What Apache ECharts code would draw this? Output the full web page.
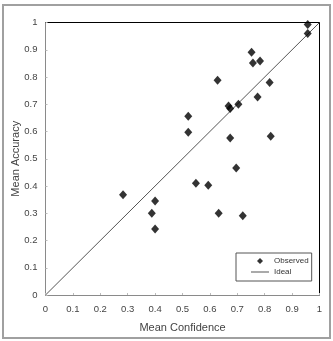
<!DOCTYPE html>
<html>
<head>
<meta charset="utf-8">
<script src="https://cdn.jsdelivr.net/npm/echarts@6/dist/echarts.min.js"></script>
<style>
  html, body { margin: 0; padding: 0; background: #fff; }
  #chart { width: 333px; height: 341px; }
</style>
</head>
<body>
<div id="chart"></div>
<script>
// mean confidence / mean accuracy
var confidence = [0.957, 0.957, 0.752, 0.757, 0.783, 0.628, 0.818, 0.774, 0.668, 0.674, 0.704, 0.521,
                  0.521, 0.674, 0.822, 0.696, 0.549, 0.594, 0.632, 0.720, 0.283, 0.400, 0.388, 0.400];
var accuracy   = [0.993, 0.960, 0.891, 0.851, 0.859, 0.788, 0.780, 0.727, 0.694, 0.684, 0.700, 0.656,
                  0.597, 0.576, 0.583, 0.466, 0.410, 0.403, 0.300, 0.291, 0.368, 0.345, 0.300, 0.242];
// ideal calibration line end points
var idealX = [0, 1];
var idealY = [0, 1];

var observed = confidence.map(function (c, i) { return [c, accuracy[i]]; });
var ideal = idealX.map(function (x, i) { return [x, idealY[i]]; });

var labelFont = 'Liberation Sans, Arial, sans-serif';

var chart = echarts.init(document.getElementById('chart'));
chart.setOption({
    animation: false,
    grid: {
        left: 45.5, top: 22.5, right: 13.5, bottom: 46,
        outerBoundsMode: 'none'
    },
    // frame round the whole picture
    graphic: [{
        type: 'rect',
        shape: { x: 3, y: 5, width: 327, height: 333 },
        style: { fill: 'none', stroke: '#a0a0a0', lineWidth: 2 },
        silent: true
    }],
    legend: {
        orient: 'vertical',
        left: 236, top: 253,
        padding: [4, 3, 5, 15],
        itemWidth: 18, itemHeight: 6, itemGap: 3,
        symbolKeepAspect: true,
        borderColor: '#555', borderWidth: 1,
        textStyle: { fontSize: 8, color: '#333', fontFamily: labelFont },
        data: [
            { name: 'Observed', icon: 'path://M0,-1L1,0L0,1L-1,0Z' },
            { name: 'Ideal', icon: 'path://M0,0H18V1H0Z' }
        ]
    },
    xAxis: [{
        type: 'value', min: 0, max: 1, interval: 0.1,
        name: 'Mean Confidence', nameLocation: 'middle', nameGap: 27, nameMoveOverlap: false,
        nameTextStyle: { fontSize: 11, color: '#444', fontFamily: labelFont },
        axisLine: { onZero: false, lineStyle: { color: '#8a8a8a', width: 1 } },
        axisTick: { inside: true, length: 2, lineStyle: { color: '#bbb' } },
        axisLabel: { fontSize: 9.5, color: '#444', margin: 9, fontFamily: labelFont },
        splitLine: { show: false }
    }, {
        type: 'value', min: 0, max: 1, position: 'top',
        axisLine: { show: true, onZero: false, lineStyle: { color: '#000', width: 1 } },
        axisTick: { show: false }, axisLabel: { show: false }, splitLine: { show: false }
    }],
    yAxis: [{
        type: 'value', min: 0, max: 1, interval: 0.1,
        name: 'Mean Accuracy', nameLocation: 'middle', nameGap: 24, nameMoveOverlap: false,
        nameTextStyle: { fontSize: 11, color: '#444', fontFamily: labelFont },
        axisLine: { show: true, onZero: false, lineStyle: { color: '#8a8a8a', width: 1 } },
        axisTick: { show: true, inside: true, length: 2, lineStyle: { color: '#bbb' } },
        axisLabel: { fontSize: 9.5, color: '#444', margin: 8, fontFamily: labelFont },
        splitLine: { show: false }
    }, {
        type: 'value', min: 0, max: 1, position: 'right',
        axisLine: { show: true, onZero: false, lineStyle: { color: '#000', width: 1 } },
        axisTick: { show: false }, axisLabel: { show: false }, splitLine: { show: false }
    }],
    series: [{
        name: 'Observed',
        type: 'scatter',
        symbol: 'diamond',
        symbolSize: [8, 9],
        itemStyle: { color: '#000' },
        data: observed,
        z: 3
    }, {
        name: 'Ideal',
        type: 'line',
        showSymbol: false,
        symbol: 'none',
        lineStyle: { color: '#555', width: 1 },
        itemStyle: { color: '#555' },
        data: ideal,
        z: 2
    }]
});
</script>
</body>
</html>
